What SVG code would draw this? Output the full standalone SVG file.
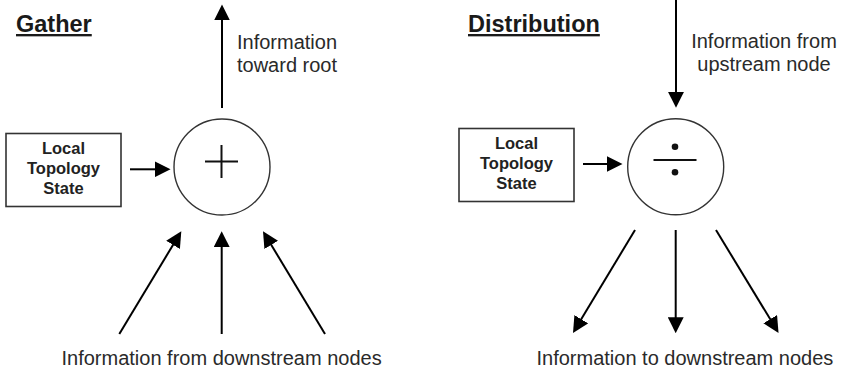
<svg xmlns="http://www.w3.org/2000/svg" width="842" height="370" viewBox="0 0 842 370">
<style>
  .title { font-family: "Liberation Sans", Arial, sans-serif; font-weight: bold; font-size: 23.5px; fill: #1a1a1a; text-decoration: underline; }
  .label { font-family: "Liberation Sans", Arial, sans-serif; font-size: 20px; fill: #2a2a2a; }
  .boxtext { font-family: "Liberation Sans", Arial, sans-serif; font-weight: bold; font-size: 16.5px; fill: #222; text-anchor: middle; }
  .box { fill: #fff; stroke: #333; stroke-width: 1.6; }
  .op { fill: #fff; stroke: #333; stroke-width: 1.4; }
  .sym { stroke: #111; stroke-width: 2; fill: none; }
  .conn { stroke: #000; stroke-width: 2; fill: none; marker-end: url(#arrow); }
</style>
<defs>
  <marker id="arrow" markerUnits="userSpaceOnUse" markerWidth="16" markerHeight="16" viewBox="0 0 15 15" refX="7" refY="7.5" orient="auto">
    <path d="M0,0 L15,7.5 L0,15 z" fill="#000"/>
  </marker>
</defs>

<g id="gather-title"><text class="title" x="16" y="32">Gather</text></g>
<g id="distribution-title"><text class="title" x="468" y="32">Distribution</text></g>

<g id="gather-state">
  <rect class="box" x="6" y="133.5" width="115" height="73"/>
  <text class="boxtext" x="63.5" y="154">Local</text>
  <text class="boxtext" x="63.5" y="174">Topology</text>
  <text class="boxtext" x="63.5" y="194">State</text>
</g>
<g id="gather-op">
  <circle class="op" cx="222" cy="167" r="48"/>
  <line class="sym" x1="205" y1="161.5" x2="238" y2="161.5"/>
  <line class="sym" x1="221.5" y1="145" x2="221.5" y2="178"/>
</g>

<g id="dist-state">
  <rect class="box" x="459" y="128.5" width="115" height="73"/>
  <text class="boxtext" x="516.5" y="149">Local</text>
  <text class="boxtext" x="516.5" y="169">Topology</text>
  <text class="boxtext" x="516.5" y="189">State</text>
</g>
<g id="dist-op">
  <circle class="op" cx="675.7" cy="166.7" r="48"/>
  <line class="sym" x1="653.5" y1="160" x2="696.5" y2="160" stroke-width="2.6"/>
  <circle cx="675" cy="146.7" r="3.3" fill="#111"/>
  <circle cx="675" cy="172.3" r="3.3" fill="#111"/>
</g>

<g id="gather-labels">
  <text class="label" x="287" y="49" text-anchor="middle">Information</text>
  <text class="label" x="287" y="72" text-anchor="middle">toward root</text>
  <text class="label" x="61.5" y="365">Information from downstream nodes</text>
</g>
<g id="dist-labels">
  <text class="label" x="764" y="48" text-anchor="middle">Information from</text>
  <text class="label" x="764" y="71" text-anchor="middle">upstream node</text>
  <text class="label" x="536.5" y="364.5">Information to downstream nodes</text>
</g>

<g id="connectors">
  <line class="conn" x1="222" y1="108" x2="222" y2="13"/>
  <line class="conn" x1="130" y1="169.3" x2="162" y2="169.3"/>
  <line class="conn" x1="119.3" y1="334" x2="176.9" y2="238.5"/>
  <line class="conn" x1="221.7" y1="334" x2="221.7" y2="239.7"/>
  <line class="conn" x1="325" y1="334" x2="267.4" y2="238.5"/>

  <line class="conn" x1="676" y1="0" x2="676" y2="99.3"/>
  <line class="conn" x1="583" y1="164" x2="614" y2="164"/>
  <line class="conn" x1="635" y1="230" x2="577.4" y2="325.6"/>
  <line class="conn" x1="675.7" y1="230" x2="675.7" y2="324.7"/>
  <line class="conn" x1="716" y1="230" x2="774.1" y2="325.6"/>
</g>
</svg>
